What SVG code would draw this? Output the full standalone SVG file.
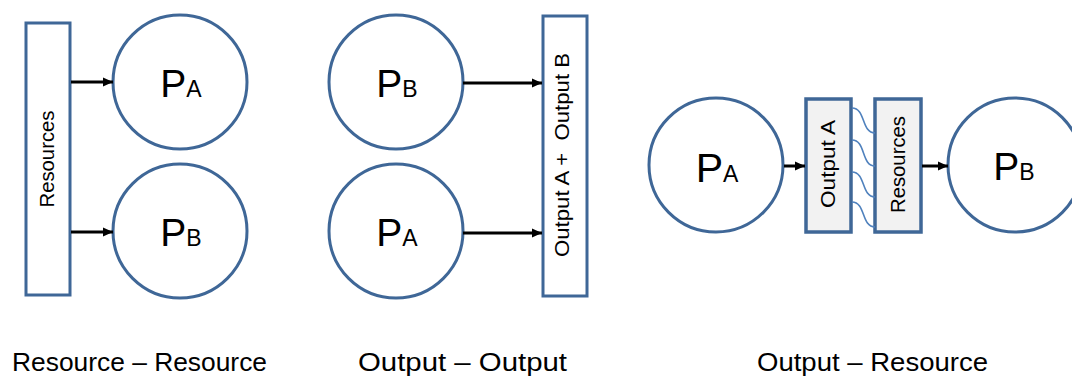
<svg xmlns="http://www.w3.org/2000/svg" width="1072" height="378" viewBox="0 0 1072 378">
<style>
.node{fill:#fff;stroke:#3f6797;stroke-width:3}
.box{fill:#fff;stroke:#3f6797;stroke-width:3}
.gbox{fill:#f2f2f2;stroke:#3f6797;stroke-width:3.5}
.lbl{font-family:"Liberation Sans",Arial,sans-serif;fill:#000}
.big{font-size:39px}
.sub{font-size:23px}
.rot{font-size:21px}
.cap{font-size:26px}
.arrow{stroke:#000;stroke-width:3;fill:none;marker-end:url(#ah)}
.wave{stroke:#4f81bd;stroke-width:1.6;fill:none}
</style>
<defs>
<marker id="ah" markerUnits="userSpaceOnUse" markerWidth="10" markerHeight="10" viewBox="0 0 10 10" refX="10" refY="5" orient="auto">
<path d="M0,0.5 L10,5 L0,9.5 z" fill="#000"/>
</marker>
</defs>
<rect width="1072" height="378" fill="#fff"/>

<!-- Panel 1 -->
<g id="p1-resources">
<rect class="box" x="26" y="23" width="44" height="272"/>
<text class="lbl rot" text-anchor="middle" textLength="97" lengthAdjust="spacingAndGlyphs" transform="translate(54,159) rotate(-90)">Resources</text>
</g>
<g id="p1-pa">
<circle class="node" cx="180" cy="82" r="67"/>
<text class="lbl" x="181" y="97" text-anchor="middle"><tspan class="big">P</tspan><tspan class="sub">A</tspan></text>
</g>
<g id="p1-pb">
<circle class="node" cx="180" cy="231" r="67"/>
<text class="lbl" x="181" y="246" text-anchor="middle"><tspan class="big">P</tspan><tspan class="sub">B</tspan></text>
</g>

<!-- Panel 2 -->
<g id="p2-pb">
<circle class="node" cx="396" cy="82" r="67"/>
<text class="lbl" x="397" y="97" text-anchor="middle"><tspan class="big">P</tspan><tspan class="sub">B</tspan></text>
</g>
<g id="p2-pa">
<circle class="node" cx="396" cy="231" r="67"/>
<text class="lbl" x="397" y="246" text-anchor="middle"><tspan class="big">P</tspan><tspan class="sub">A</tspan></text>
</g>
<g id="p2-outputs">
<rect class="box" x="543" y="16" width="44" height="280"/>
<text class="lbl rot" text-anchor="middle" textLength="204" lengthAdjust="spacingAndGlyphs" xml:space="preserve" transform="translate(569,155) rotate(-90)">Output A +  Output B</text>
</g>

<!-- Panel 3 -->
<g id="p3-pa">
<circle class="node" cx="716" cy="165" r="67"/>
<text class="lbl" x="717" y="182" text-anchor="middle"><tspan class="big" style="font-size:41px">P</tspan><tspan class="sub">A</tspan></text>
</g>
<g id="p3-outputa">
<rect class="gbox" x="806" y="99" width="45" height="133"/>
<text class="lbl rot" text-anchor="middle" textLength="88" lengthAdjust="spacingAndGlyphs" transform="translate(835,164) rotate(-90)">Output A</text>
</g>
<g id="p3-resources">
<rect class="gbox" x="875" y="99" width="46" height="133"/>
<text class="lbl rot" text-anchor="middle" textLength="97" lengthAdjust="spacingAndGlyphs" transform="translate(905,164.5) rotate(-90)">Resources</text>
</g>
<g id="p3-pb">
<circle class="node" cx="1015" cy="165" r="67"/>
<text class="lbl" x="1014" y="180" text-anchor="middle"><tspan class="big">P</tspan><tspan class="sub">B</tspan></text>
</g>

<!-- Connectors -->
<g id="connectors">
<path class="arrow" d="M71,82 H113"/>
<path class="arrow" d="M71,232 H113"/>
<path class="arrow" d="M463,83 H542"/>
<path class="arrow" d="M463,233 H542"/>
<path class="arrow" d="M784,166 H805"/>
<path class="arrow" d="M922,166 H948"/>
<path class="wave" d="M852,108 C866,108 861,133 875,133"/>
<path class="wave" d="M852,140 C866,140 861,166 875,166"/>
<path class="wave" d="M852,172 C866,172 861,197 875,197"/>
<path class="wave" d="M852,202 C866,202 861,227 875,227"/>
</g>

<!-- Captions -->
<g id="captions">
<text class="lbl cap" x="12" y="371" textLength="255" lengthAdjust="spacingAndGlyphs">Resource – Resource</text>
<text class="lbl cap" x="358" y="371" textLength="209" lengthAdjust="spacingAndGlyphs">Output – Output</text>
<text class="lbl cap" x="757" y="371" textLength="231" lengthAdjust="spacingAndGlyphs">Output – Resource</text>
</g>
</svg>
